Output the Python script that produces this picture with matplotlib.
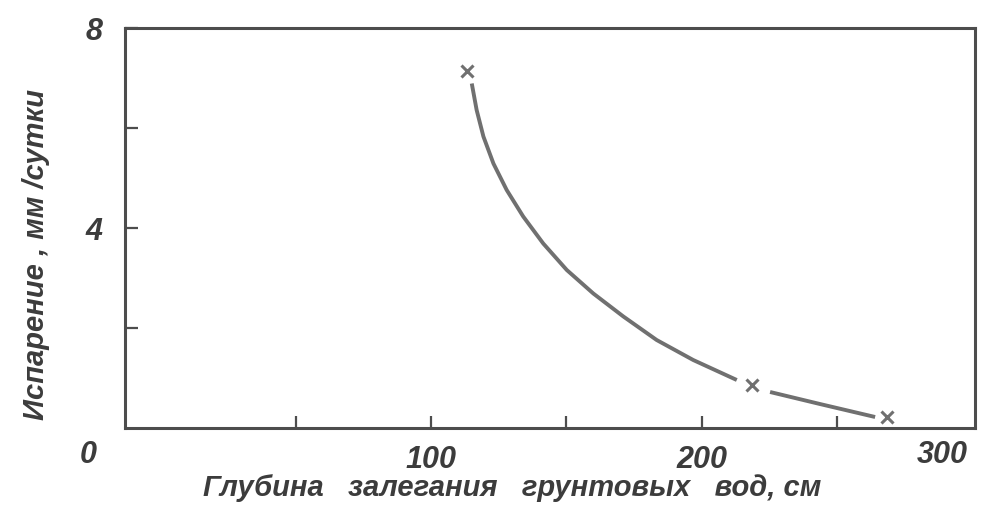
import matplotlib
matplotlib.use("Agg")
import matplotlib.pyplot as plt
import numpy as np

# values
# depth of ground water, cm  /  evaporation, mm per day
marker_x = [113.4, 218.5, 268.5]
marker_y = [7.14, 0.86, 0.22]

curve1_x = [115.1, 116.9, 119.4, 123.1, 128.0, 134.1, 141.5, 150.2, 160.0,
            171.1, 183.4, 196.9, 213.0]
curve1_y = [6.89, 6.36, 5.83, 5.29, 4.76, 4.23, 3.69, 3.16, 2.69,
            2.23, 1.76, 1.36, 0.96]
curve2_x = [225.3, 243.7, 264.1]
curve2_y = [0.72, 0.48, 0.22]

x_ticks = [50, 100, 150, 200, 250]
x_labels = ["", "100", "", "200", ""]
y_ticks = [2, 4, 6, 8]
y_labels = ["", "4", "", "8"]

xlabel = "Глубина   залегания   грунтовых   вод, см"
ylabel = "Испарение , мм /сутки"

ink = "#4d4d4d"
line_col = "#707070"
font = dict(family=["Liberation Sans", "DejaVu Sans"], style="italic",
            weight="bold", color="#3c3c3c")

fig = plt.figure(figsize=(9.86, 5.22), dpi=100)
ax = fig.add_axes([125 / 986, 1 - 428 / 522, 850 / 986, 400 / 522])

ax.plot(curve1_x, curve1_y, color=line_col, lw=2.8, solid_capstyle="butt")
ax.plot(curve2_x, curve2_y, color=line_col, lw=2.8, solid_capstyle="butt")
ax.plot(marker_x, marker_y, ls="none", marker="x", ms=9, mew=2.2, color=line_col)

ax.set_xlim(-13, 301)
ax.set_ylim(0, 8)

for s in ax.spines.values():
    s.set_color(ink)
    s.set_linewidth(2.2)

ax.set_xticks(x_ticks)
ax.set_xticklabels(x_labels, fontsize=22, **font)
ax.set_yticks(y_ticks)
ax.set_yticklabels(y_labels, fontsize=22, **font)
ax.tick_params(direction="in", length=9, width=1.6, color=ink)
ax.tick_params(axis="x", pad=12)
ax.tick_params(axis="y", pad=16)

# corner labels of the original drawing
ax.text(-0.033, -0.03, "0", transform=ax.transAxes, ha="right", va="top",
        fontsize=22, **font)
ax.text(0.962, -0.03, "300", transform=ax.transAxes, ha="center", va="top",
        fontsize=22, **font)

fig.text(512 / 986, 1 - 488 / 522, xlabel, ha="center", va="center",
         fontsize=21, **font)
fig.text(36 / 986, 1 - 255 / 522, ylabel, ha="center", va="center",
         rotation=90, fontsize=21, **font)

fig.savefig("out.png", dpi=100, facecolor="white")
